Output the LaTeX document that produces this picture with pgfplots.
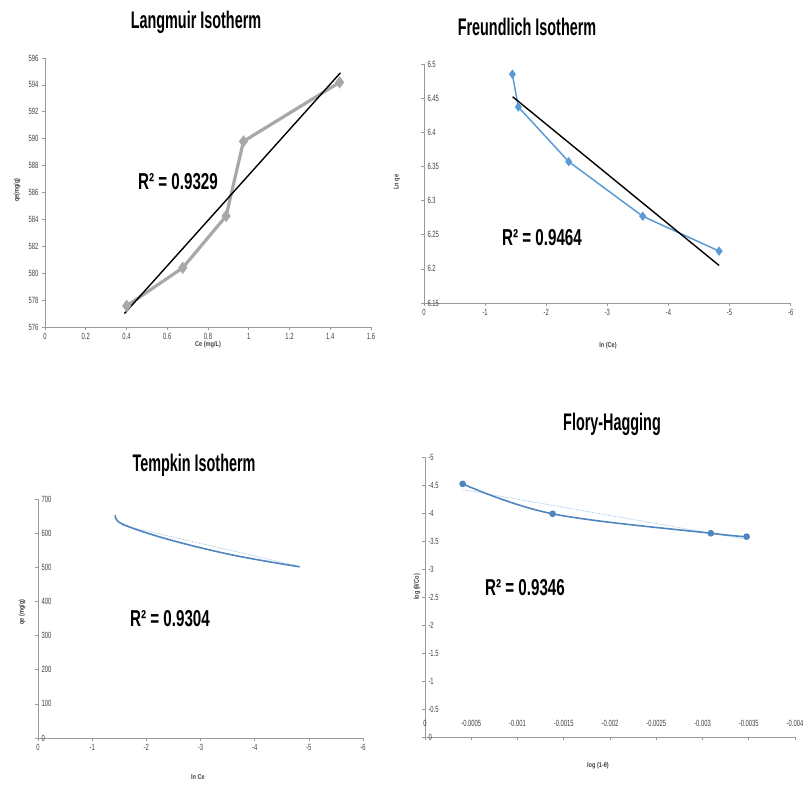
\documentclass[border=0pt]{standalone}
\usepackage{pgfplots}
\pgfplotsset{compat=1.18}
\usepackage{fontspec}
\setmainfont{Liberation Sans}
\newfontfamily\tickfont{Liberation Sans}[FakeStretch=0.65]
\newfontfamily\titlefont{Liberation Sans}[FakeStretch=0.6]
\newfontfamily\rfont{Liberation Sans}[FakeStretch=0.66]
\newfontfamily\labfont{Liberation Sans}[FakeStretch=0.8]
\definecolor{xlblue}{HTML}{5B9BD5}
\definecolor{xlblued}{HTML}{4F86C0}
\definecolor{xlgray}{HTML}{A8A8A8}
\definecolor{axgray}{HTML}{9A9A9A}
\definecolor{txtgray}{HTML}{404040}
\pgfplotsset{
  xlstyle/.style={
    scale only axis, anchor=south west,
    axis x line*=bottom, axis y line*=left,
    axis line style={axgray, line width=0.9pt},
    tick style={axgray, line width=0.6pt},
    major tick length=3pt, tick align=outside,
    ticklabel style={font=\tickfont\fontsize{9}{10}\selectfont, text=txtgray},
    /pgf/number format/assume math mode=true,
    scaled ticks=false,
    clip=false,
  }
}
\begin{document}
\begin{tikzpicture}
\path[fill=white] (0pt,0pt) rectangle (807pt,787pt);

% ---------------- Langmuir
\begin{axis}[xlstyle, at={(45pt,460pt)}, width=326pt, height=269pt,
  xmin=0, xmax=1.6, ymin=576, ymax=596,
  xtick={0,0.2,0.4,0.6,0.8,1,1.2,1.4,1.6},
  xticklabels={0,0.2,0.4,0.6,0.8,1,1.2,1.4,1.6},
  ytick={576,578,580,582,584,586,588,590,592,594,596},
  yticklabels={576,578,580,582,584,586,588,590,592,594,596}]
\addplot[xlgray, line width=3.2pt, mark=diamond*, mark size=3.5pt, mark options={fill=xlgray, draw=xlgray}]
  coordinates {(0.401,577.57) (0.676,580.40) (0.889,584.25) (0.974,589.80) (1.446,594.19)};
\addplot[black, line width=1.4pt] coordinates {(0.39,577.0) (1.45,594.9)};
\end{axis}
\node[font=\titlefont\bfseries\fontsize{24}{26}\selectfont] at (196pt,765pt) {Langmuir Isotherm};
\node[font=\labfont\bfseries\fontsize{7}{8}\selectfont, text=txtgray, rotate=90] at (17pt,597pt) {qe(mg/g)};
\node[font=\labfont\bfseries\fontsize{7}{8}\selectfont, text=txtgray] at (208pt,442pt) {Ce (mg/L)};
\node[font=\rfont\bfseries\fontsize{23}{25}\selectfont] at (178pt,605pt) {R² = 0.9329};

% ---------------- Freundlich
\begin{axis}[xlstyle, at={(424pt,484pt)}, width=366.7pt, height=239pt,
  x dir=reverse, xmin=-6, xmax=0, ymin=6.15, ymax=6.5,
  xtick={0,-1,-2,-3,-4,-5,-6},
  xticklabels={0,-1,-2,-3,-4,-5,-6},
  ytick={6.15,6.2,6.25,6.3,6.35,6.4,6.45,6.5},
  yticklabels={6.15,6.2,6.25,6.3,6.35,6.4,6.45,6.5},
  yticklabel style={anchor=west, xshift=3pt}]
\addplot[xlblue, line width=1.5pt, mark=diamond*, mark size=3.5pt, mark options={fill=xlblue, draw=xlblue}]
  coordinates {(-1.446,6.485) (-1.544,6.437) (-2.368,6.357) (-3.579,6.277) (-4.828,6.226)};
\addplot[black, line width=1.4pt] coordinates {(-1.451,6.452) (-4.828,6.205)};
\end{axis}
\node[font=\titlefont\bfseries\fontsize{24}{26}\selectfont] at (527pt,760pt) {Freundlich Isotherm};
\node[font=\labfont\bfseries\fontsize{7}{8}\selectfont, text=txtgray, rotate=90] at (397pt,605pt) {Ln qe};
\node[font=\labfont\bfseries\fontsize{7}{8}\selectfont, text=txtgray] at (608pt,441pt) {ln (Ce)};
\node[font=\rfont\bfseries\fontsize{23}{25}\selectfont] at (542pt,549pt) {R² = 0.9464};

% ---------------- Tempkin
\begin{axis}[xlstyle, at={(38pt,49pt)}, width=325pt, height=238.7pt,
  x dir=reverse, xmin=-6, xmax=0, ymin=0, ymax=700,
  xtick={0,-1,-2,-3,-4,-5,-6},
  xticklabels={0,-1,-2,-3,-4,-5,-6},
  ytick={0,100,200,300,400,500,600,700},
  yticklabels={0,100,200,300,400,500,600,700},
  yticklabel style={anchor=west, xshift=3pt}]
\addplot[xlblue!60, line width=0.8pt, densely dotted] coordinates {(-1.55,624) (-4.84,503)};
\addplot[xlblued, line width=1.6pt, smooth, tension=0.6]
  coordinates {(-1.43,654) (-1.55,628) (-2.37,584) (-3.58,537) (-4.83,502)};
\end{axis}
\node[font=\titlefont\bfseries\fontsize{24}{26}\selectfont] at (194pt,322pt) {Tempkin Isotherm};
\node[font=\labfont\bfseries\fontsize{7}{8}\selectfont, text=txtgray, rotate=90] at (22pt,175pt) {qe (mg/g)};
\node[font=\labfont\bfseries\fontsize{7}{8}\selectfont, text=txtgray] at (198pt,10pt) {ln Ce};
\node[font=\rfont\bfseries\fontsize{23}{25}\selectfont] at (170pt,168pt) {R² = 0.9304};

% ---------------- Flory-Hagging
\begin{axis}[xlstyle, at={(425pt,50pt)}, width=370pt, height=280pt,
  x dir=reverse, y dir=reverse, xmin=-0.004, xmax=0, ymin=-5, ymax=0,
  xtick={0,-0.0005,-0.001,-0.0015,-0.002,-0.0025,-0.003,-0.0035,-0.004},
  xticklabels={0,-0.0005,-0.001,-0.0015,-0.002,-0.0025,-0.003,-0.0035,-0.004},
  ytick={0,-0.5,-1,-1.5,-2,-2.5,-3,-3.5,-4,-4.5,-5},
  yticklabels={0,-0.5,-1,-1.5,-2,-2.5,-3,-3.5,-4,-4.5,-5},
  yticklabel style={anchor=west, xshift=3pt},
  xticklabel style={anchor=center, yshift=17pt}]
\addplot[xlblue!60, line width=0.8pt, densely dotted] coordinates {(-0.000407,-4.417) (-0.003477,-3.528)};
\addplot[xlblued, line width=1.6pt, smooth, tension=0.6, mark=*, mark size=2.5pt, mark options={fill=xlblued, draw=xlblued}]
  coordinates {(-0.000407,-4.52) (-0.00138,-3.985) (-0.00309,-3.638) (-0.003477,-3.578)};
\end{axis}
\node[font=\titlefont\bfseries\fontsize{24}{26}\selectfont] at (612pt,363pt) {Flory-Hagging};
\node[font=\labfont\bfseries\fontsize{7}{8}\selectfont, text=txtgray, rotate=90] at (417pt,200pt) {log (θ/Co)};
\node[font=\labfont\bfseries\fontsize{7}{8}\selectfont, text=txtgray] at (598pt,21pt) {log (1-θ)};
\node[font=\rfont\bfseries\fontsize{23}{25}\selectfont] at (525pt,199pt) {R² = 0.9346};
\end{tikzpicture}
\end{document}
